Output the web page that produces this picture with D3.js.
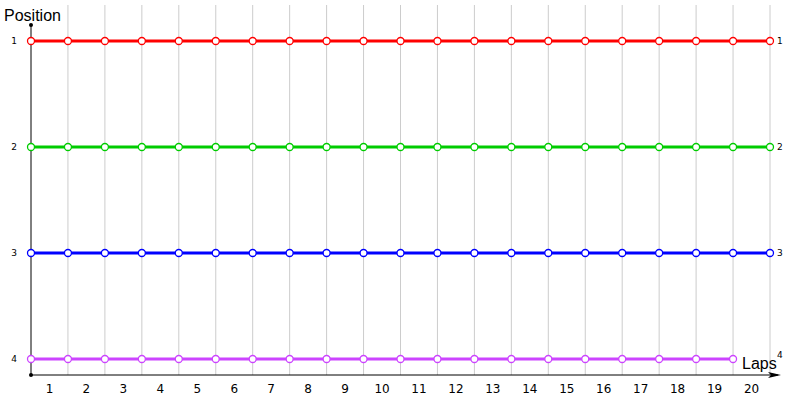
<!DOCTYPE html>
<html>
<head>
<meta charset="utf-8">
<script src="https://cdn.jsdelivr.net/npm/d3@7"></script>
<style>
  body { margin: 0; background: #fff; }
  svg { font-family: Tahoma, "DejaVu Sans", sans-serif; }
</style>
</head>
<body>
<div id="container"></div>
<script>
// laps 0..20, position held on each lap
const laps = d3.range(0, 21)
const lapLabels = ["1","2","3","4","5","6","7","8","9","10","11","12","13","14","15","16","17","18","19","20"]
const positions = [1, 2, 3, 4]
const redPos    = [1,1,1,1,1,1,1,1,1,1,1,1,1,1,1,1,1,1,1,1,1]
const greenPos  = [2,2,2,2,2,2,2,2,2,2,2,2,2,2,2,2,2,2,2,2,2]
const bluePos   = [3,3,3,3,3,3,3,3,3,3,3,3,3,3,3,3,3,3,3,3,3]
const purplePos = [4,4,4,4,4,4,4,4,4,4,4,4,4,4,4,4,4,4,4,4]
const colors = ["#ff0000", "#00cc00", "#0000ff", "#cc44ff"]

const width = 800, height = 400

const x = d3.scaleLinear().domain([0, 20]).range([31, 770])
const y = d3.scaleLinear().domain([1, 4]).range([41, 359])

const svg = d3.select("#container").append("svg")
    .attr("width", width)
    .attr("height", height)

// vertical grid
svg.append("g").selectAll("line")
    .data(laps.slice(1))
    .enter().append("line")
    .attr("x1", d => x(d)).attr("x2", d => x(d))
    .attr("y1", 5).attr("y2", 375)
    .attr("stroke", "#cccccc")
    .attr("stroke-width", 1)

// axes
svg.append("line")
    .attr("x1", x(0)).attr("x2", x(0))
    .attr("y1", 25).attr("y2", 375)
    .attr("stroke", "#000").attr("stroke-width", 1)
svg.append("circle").attr("cx", x(0)).attr("cy", 25).attr("r", 2).attr("fill", "#000")
svg.append("circle").attr("cx", x(0)).attr("cy", 375).attr("r", 2).attr("fill", "#000")
svg.append("line")
    .attr("x1", x(0)).attr("x2", 778)
    .attr("y1", 375).attr("y2", 375)
    .attr("stroke", "#000").attr("stroke-width", 1)
svg.append("path")
    .attr("d", "M768,372 L781,375 L768,378 L771,375 Z")
    .attr("fill", "#000")

svg.append("text").attr("x", 4).attr("y", 21)
    .attr("font-family", "'Liberation Sans', sans-serif")
    .attr("font-size", 16).attr("fill", "#000").text("Position")
svg.append("text").attr("x", 742).attr("y", 369)
    .attr("font-family", "'Liberation Sans', sans-serif")
    .attr("font-size", 16).attr("fill", "#000").text("Laps")

// x tick labels at mid-lap
svg.append("g").selectAll("text")
    .data(lapLabels)
    .enter().append("text")
    .attr("x", (d, i) => x(i + 0.5))
    .attr("y", 393)
    .attr("text-anchor", "middle")
    .attr("font-size", 12)
    .text(d => d)

// y labels on both sides
svg.append("g").selectAll("text")
    .data(positions)
    .enter().append("text")
    .attr("x", 17).attr("y", d => y(d) + 3)
    .attr("text-anchor", "end")
    .attr("font-size", 9)
    .text(d => d)
svg.append("g").selectAll("text")
    .data(positions)
    .enter().append("text")
    .attr("x", 777).attr("y", d => y(d) + (d === 4 ? -1 : 3))
    .attr("font-size", 9)
    .text(d => d)

const series = [redPos, greenPos, bluePos, purplePos]
const line = d3.line().x((d, i) => x(i)).y(d => y(d))

series.forEach((s, k) => {
    const g = svg.append("g")
    g.append("path")
        .attr("d", line(s))
        .attr("fill", "none")
        .attr("stroke", colors[k])
        .attr("stroke-width", 3)
    g.selectAll("circle")
        .data(s)
        .enter().append("circle")
        .attr("cx", (d, i) => x(i))
        .attr("cy", d => y(d))
        .attr("r", 3.5)
        .attr("fill", "#fff")
        .attr("stroke", colors[k])
        .attr("stroke-width", 1.3)
})
</script>
</body>
</html>
